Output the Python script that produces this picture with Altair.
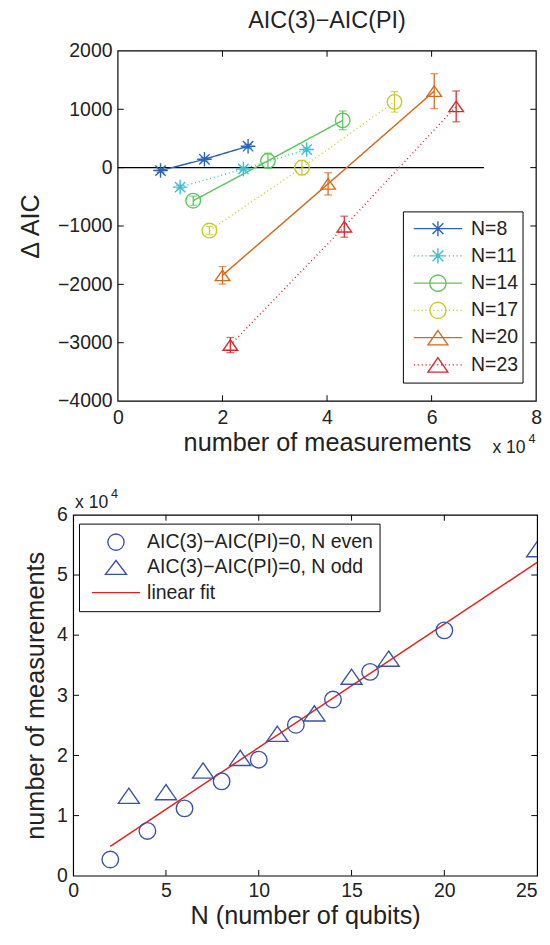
import altair as alt
import pandas as pd

FONT = "Liberation Sans"

# ---------------- top panel data ----------------
series_names = ["N=8", "N=11", "N=14", "N=17", "N=20", "N=23"]
series_colors = ["#2b63b6", "#3ebfcb", "#5ec65b", "#c8cb28", "#d5691f", "#d8262c"]
meas_top = [
    [8150, 16550, 24900],
    [11900, 24000, 36100],
    [14400, 28700, 43000],
    [17500, 35200, 52900],
    [20000, 40200, 60500],
    [21500, 43300, 64700],
]
daic_top = [
    [-50, 143, 367],
    [-333, -23, 310],
    [-567, 117, 810],
    [-1078, 0, 1127],
    [-1845, -278, 1310],
    [-3040, -1012, 1050],
]
err_top = [
    [30, 30, 30],
    [30, 30, 30],
    [80, 130, 160],
    [70, 125, 175],
    [150, 190, 300],
    [130, 180, 264],
]
zero_x = [0, 70000]
zero_y = [0, 0]
top_xticks = [20000, 40000, 60000]
top_yticks = [-3000, -2000, -1000, 0, 1000]

# ---------------- bottom panel data ----------------
kind_names = ["AIC(3)\u2212AIC(PI)=0, N even", "AIC(3)\u2212AIC(PI)=0, N odd", "linear fit"]
N_even = [2, 4, 6, 8, 10, 12, 14, 16, 20]
meas_even = [2700, 7450, 11200, 15700, 19300, 25100, 29300, 33900, 40800]
N_odd = [3, 5, 7, 9, 11, 13, 15, 17, 25]
meas_odd = [13300, 13900, 17500, 19600, 23600, 27000, 33100, 36100, 54300]
fit_N = [2, 25]
fit_meas = [4900, 52100]
bot_xticks = [5, 10, 15, 20]
bot_yticks = [10000, 20000, 30000, 40000, 50000]

# ---------------- styles ----------------
STAR = "M-1,0L1,0M0,-1L0,1M-0.7071,-0.7071L0.7071,0.7071M-0.7071,0.7071L0.7071,-0.7071"
TRI = "M0,-0.72L-1,0.72L1,0.72Z"
series_shapes = [STAR, STAR, "circle", "circle", TRI, TRI]
series_sizes = [225, 225, 300, 300, 462, 462]
series_dash = [[1, 0], [1, 3], [1, 0], [1, 3], [1, 0], [1, 3]]


def dotted(x0, x1, step, dot):
    parts = []
    x = x0
    while x < x1:
        parts.append(f"M{x:.3f},0L{x + dot:.3f},0")
        x += step
    return "".join(parts)


def circ(r):
    k = 0.5523 * r
    return (f"M{r},0C{r},{k},{k},{r},0,{r}C{-k},{r},{-r},{k},{-r},0"
            f"C{-r},{-k},{-k},{-r},0,{-r}C{k},{-r},{r},{-k},{r},0Z")


SOLID = "M-0.8,0L0.8,0"
DOTS = dotted(-0.8, 0.8, 0.129, 0.04)
L_STAR = "M-0.25,0L0.25,0M0,-0.25L0,0.25M-0.18,-0.18L0.18,0.18M-0.18,0.18L0.18,-0.18"
L_CIRC = circ(0.27)
L_TRI = "M0,-0.24L-0.33,0.24L0.33,0.24Z"
legend_top_paths = [SOLID + L_STAR, DOTS + L_STAR, SOLID + L_CIRC, DOTS + L_CIRC, SOLID + L_TRI, DOTS + L_TRI]
legend_bot_paths = [L_CIRC, "M0,-0.23L-0.35,0.23L0.35,0.23Z", SOLID]

# ---------------- top panel ----------------
rows = []
for s, xs, ys, es in zip(series_names, meas_top, daic_top, err_top):
    for x, y, e in zip(xs, ys, es):
        rows.append({"series": s, "m": x, "d": y, "lo": y - e, "hi": y + e})
df_top = pd.DataFrame(rows)
caps = pd.concat([
    df_top.assign(cap=df_top["lo"]),
    df_top.assign(cap=df_top["hi"]),
])

SHIFT = 46            # top plot starts further right than the bottom one
W1, H1 = 476, 360
xs1 = alt.Scale(domain=[0, 80000], nice=False, range=[SHIFT, W1])
ys1 = alt.Scale(domain=[-4000, 2000], nice=False)


def col1():
    return alt.Scale(domain=series_names, range=series_colors)


xax1 = alt.Axis(values=[0, 20000, 40000, 60000, 80000], labelExpr="datum.value / 10000",
                title="number of measurements", labelPadding=7, titlePadding=3,
                titleX=(SHIFT + W1) / 2)
yax1 = alt.Axis(values=[-4000, -3000, -2000, -1000, 0, 1000, 2000], format="d",
                title="\u0394 AIC", labelPadding=6, titlePadding=14, offset=-SHIFT)

base1 = alt.Chart(df_top)

zero_line = alt.Chart(pd.DataFrame({"m": zero_x, "d": zero_y})).mark_line(
    color="black", strokeWidth=1.1
).encode(x=alt.X("m:Q", scale=xs1, axis=xax1), y=alt.Y("d:Q", scale=ys1, axis=yax1))

lines1 = base1.mark_line(strokeWidth=1.5).encode(
    x=alt.X("m:Q", scale=xs1), y=alt.Y("d:Q", scale=ys1),
    color=alt.Color("series:N", scale=col1(), legend=None),
    strokeDash=alt.StrokeDash("series:N", scale=alt.Scale(domain=series_names, range=series_dash), legend=None),
    detail="series:N",
)
bars1 = base1.mark_rule(strokeWidth=1.3).encode(
    x="m:Q", y="lo:Q", y2="hi:Q",
    color=alt.Color("series:N", scale=col1(), legend=None),
)
caps1 = alt.Chart(caps).mark_tick(orient="horizontal", size=8, thickness=1.3).encode(
    x="m:Q", y="cap:Q",
    color=alt.Color("series:N", scale=col1(), legend=None),
)
pts1 = base1.mark_point(filled=False, strokeWidth=1.4, opacity=1).encode(
    x="m:Q", y="d:Q",
    color=alt.Color("series:N", scale=col1(), legend=None),
    shape=alt.Shape("series:N", scale=alt.Scale(domain=series_names, range=series_shapes), legend=None),
    size=alt.Size("series:N", scale=alt.Scale(domain=series_names, range=series_sizes), legend=None),
)

leg_common_top = dict(
    title=None, orient="none", legendX=SHIFT + 293, legendY=165,
    strokeColor="black", fillColor="white", padding=4, cornerRadius=0,
    symbolSize=3844, clipHeight=27.5, rowPadding=0, labelOffset=2,
    labelFontSize=20, labelFont=FONT, labelColor="#222",
    symbolStrokeWidth=1.4, symbolFillColor="transparent",
)
leg1 = base1.transform_filter("false").mark_point(filled=False, strokeWidth=1.4, opacity=1).encode(
    x="m:Q", y="d:Q",
    color=alt.Color("series:N", scale=col1(), legend=alt.Legend(**leg_common_top)),
    shape=alt.Shape("series:N", scale=alt.Scale(domain=series_names, range=legend_top_paths),
                    legend=alt.Legend(**leg_common_top)),
)

one = pd.DataFrame({"a": [0]})
frame1 = alt.Chart(one).mark_rect(fillOpacity=0, stroke="black", strokeWidth=1.2).encode(
    x=alt.value(SHIFT), x2=alt.value(W1), y=alt.value(0), y2=alt.value(H1)
)
tx1 = alt.Chart(pd.DataFrame({"t": top_xticks}))
ty1 = alt.Chart(pd.DataFrame({"t": top_yticks}))
ticks1 = alt.layer(
    tx1.mark_rule(color="black").encode(x="t:Q", y=alt.value(H1), y2=alt.value(H1 - 6)),
    tx1.mark_rule(color="black").encode(x="t:Q", y=alt.value(0), y2=alt.value(6)),
    ty1.mark_rule(color="black").encode(y="t:Q", x=alt.value(SHIFT), x2=alt.value(SHIFT + 6)),
    ty1.mark_rule(color="black").encode(y="t:Q", x=alt.value(W1), x2=alt.value(W1 - 6)),
)
exp1 = alt.layer(
    alt.Chart(one).mark_text(align="left", baseline="alphabetic", fontSize=18, font=FONT, color="#222")
    .encode(x=alt.value(SHIFT + 385), y=alt.value(413), text=alt.value("x 10")),
    alt.Chart(one).mark_text(align="left", baseline="alphabetic", fontSize=13, font=FONT, color="#222")
    .encode(x=alt.value(SHIFT + 422), y=alt.value(403), text=alt.value("4")),
)

top = alt.layer(frame1, zero_line, lines1, bars1, caps1, pts1, leg1, ticks1, exp1).resolve_scale(
    color="independent", shape="independent", size="independent", strokeDash="independent"
).properties(
    width=W1, height=H1, view=alt.ViewBackground(stroke=None),
    title=alt.TitleParams("AIC(3)\u2212AIC(PI)", fontSize=24, fontWeight="normal", font=FONT, color="#222",
                          offset=9, dx=SHIFT / 2),
)

# ---------------- bottom panel ----------------
df_pts = pd.DataFrame({
    "N": N_even + N_odd,
    "meas": meas_even + meas_odd,
    "kind": [kind_names[0]] * len(N_even) + [kind_names[1]] * len(N_odd),
})
df_fit = pd.DataFrame({"N": fit_N, "meas": fit_meas, "kind": [kind_names[2]] * len(fit_N)})

W2, H2 = 477, 371
xs2 = alt.Scale(domain=[0, 25], nice=False)
ys2 = alt.Scale(domain=[0, 60000], nice=False)


def col2():
    return alt.Scale(domain=kind_names, range=["#3a52a5", "#3a52a5", "#e5211d"])


leg_common_bot = dict(
    title=None, orient="none", legendX=6, legendY=9,
    strokeColor="black", fillColor="white", padding=6, cornerRadius=0,
    symbolSize=3844, clipHeight=26, rowPadding=0, labelOffset=0,
    labelFontSize=20, labelFont=FONT, labelColor="#222",
    symbolStrokeWidth=1.4, symbolFillColor="transparent", labelLimit=400,
)

xax2 = alt.Axis(values=[0, 5, 10, 15, 20, 25], title="N (number of qubits)", labelPadding=5, titlePadding=3,
                labelAlign={"expr": "datum.value == 25 ? 'right' : 'center'"})
yax2 = alt.Axis(values=[0, 10000, 20000, 30000, 40000, 50000, 60000], labelExpr="datum.value / 10000",
                title="number of measurements", labelPadding=6, titlePadding=8)

fit2 = alt.Chart(df_fit).mark_line(strokeWidth=1.5).encode(
    x=alt.X("N:Q", scale=xs2, axis=xax2), y=alt.Y("meas:Q", scale=ys2, axis=yax2),
    color=alt.Color("kind:N", scale=col2(), legend=None),
)
pts2 = alt.Chart(df_pts).mark_point(filled=False, strokeWidth=1.4, opacity=1, clip=True).encode(
    x="N:Q", y="meas:Q",
    color=alt.Color("kind:N", scale=col2(), legend=None),
    shape=alt.Shape("kind:N", scale=alt.Scale(domain=kind_names[:2], range=["circle", TRI]), legend=None),
    size=alt.Size("kind:N", scale=alt.Scale(domain=kind_names[:2], range=[290, 470]), legend=None),
)
leg2 = alt.Chart(df_pts).transform_filter("false").mark_point(filled=False, strokeWidth=1.4, opacity=1).encode(
    x="N:Q", y="meas:Q",
    color=alt.Color("kind:N", scale=col2(), legend=alt.Legend(**leg_common_bot)),
    shape=alt.Shape("kind:N", scale=alt.Scale(domain=kind_names, range=legend_bot_paths),
                    legend=alt.Legend(**leg_common_bot)),
)
tx2 = alt.Chart(pd.DataFrame({"t": bot_xticks}))
ty2 = alt.Chart(pd.DataFrame({"t": bot_yticks}))
ticks2 = alt.layer(
    tx2.mark_rule(color="black").encode(x="t:Q", y=alt.value(H2), y2=alt.value(H2 - 6)),
    tx2.mark_rule(color="black").encode(x="t:Q", y=alt.value(0), y2=alt.value(6)),
    ty2.mark_rule(color="black").encode(y="t:Q", x=alt.value(0), x2=alt.value(6)),
    ty2.mark_rule(color="black").encode(y="t:Q", x=alt.value(W2), x2=alt.value(W2 - 6)),
)
exp2 = alt.layer(
    alt.Chart(one).mark_text(align="left", baseline="alphabetic", fontSize=18, font=FONT, color="#222")
    .encode(x=alt.value(2), y=alt.value(-7), text=alt.value("x 10")),
    alt.Chart(one).mark_text(align="left", baseline="alphabetic", fontSize=13, font=FONT, color="#222")
    .encode(x=alt.value(39), y=alt.value(-17), text=alt.value("4")),
)

bottom = alt.layer(fit2, pts2, leg2, ticks2, exp2).resolve_scale(
    color="independent", shape="independent", size="independent"
).properties(width=W2, height=H2)

chart = alt.vconcat(
    top, bottom, spacing=32,
    padding={"left": 10, "top": -12, "right": 0, "bottom": 0},
).resolve_scale(
    x="independent", y="independent", color="independent", shape="independent",
    size="independent", strokeDash="independent",
).configure_view(stroke="black", strokeWidth=1.2).configure_axis(
    labelFont=FONT, titleFont=FONT, labelColor="#222", titleColor="#222",
    domain=False, grid=False, tickSize=0, labelFontSize=20, titleFontSize=26,
    titleFontWeight="normal", labelFlush=False, labelOverlap=False,
)

chart.save("out.html", embed_options={"renderer": "svg", "actions": False})
